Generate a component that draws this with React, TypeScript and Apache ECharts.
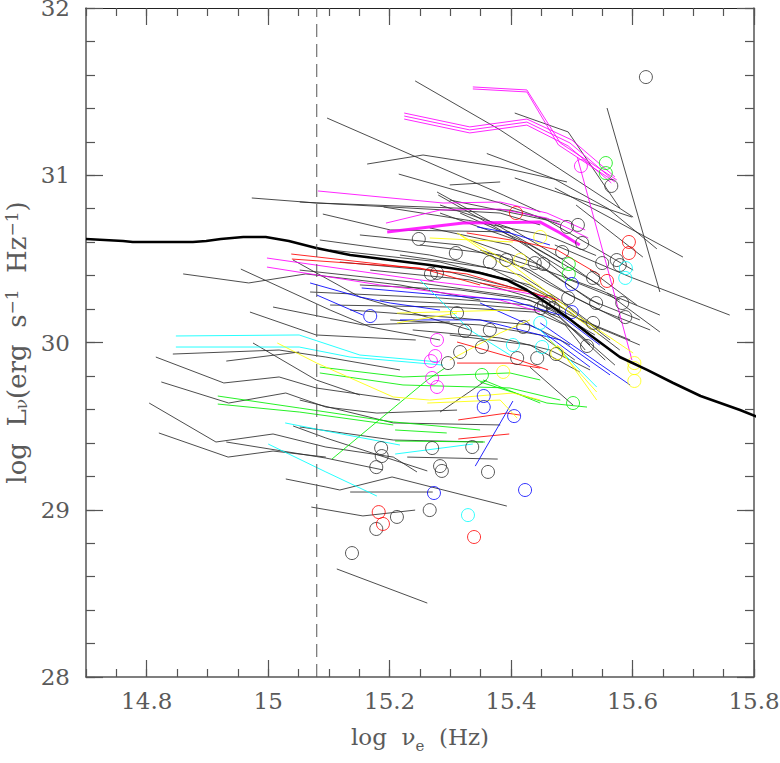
import React, { useEffect, useRef } from "react";
import * as echarts from "echarts";

// ---- axis ticks ----
const X_MAJOR = [14.8, 15, 15.2, 15.4, 15.6, 15.8];
const CUTOFF_NU = 15.08;

// ---- thick reference curve ----
const REFERENCE_CURVE = [
  [14.700, 30.619], [14.761, 30.607], [14.777, 30.601], [14.876, 30.601], [14.898, 30.607],
  [14.922, 30.619], [14.959, 30.631], [14.996, 30.631], [15.034, 30.607], [15.079, 30.565],
  [15.135, 30.523], [15.201, 30.493], [15.266, 30.463], [15.321, 30.433], [15.349, 30.416],
  [15.393, 30.374], [15.426, 30.314], [15.459, 30.236], [15.492, 30.152], [15.530, 30.045],
  [15.579, 29.913], [15.624, 29.836], [15.667, 29.758], [15.712, 29.680], [15.777, 29.596],
  [15.843, 29.501],
];

// ---- individual source tracks, by colour ----
const BLACK_TRACKS = [
  [[14.973, 30.864], [15.080, 30.834], [15.398, 30.792], [15.481, 30.720]],
  [[15.242, 31.564], [15.382, 31.271], [15.601, 30.750]],
  [[15.097, 31.342], [15.387, 30.882], [15.448, 30.780]],
  [[15.163, 31.067], [15.255, 31.121], [15.382, 31.049], [15.492, 30.960]],
  [[15.215, 31.007], [15.382, 30.834], [15.481, 30.703]],
  [[15.299, 30.942], [15.382, 30.960]],
  [[15.052, 30.840], [15.382, 30.774], [15.448, 30.703]],
  [[15.090, 30.768], [15.201, 30.673], [15.398, 30.661]],
  [[15.406, 31.372], [15.494, 31.259], [15.579, 30.804]],
  [[15.558, 31.402], [15.645, 30.302]],
  [[15.406, 30.984], [15.599, 30.750]],
  [[15.472, 30.924], [15.683, 30.511]],
  [[15.507, 30.822], [15.617, 30.511]],
  [[15.299, 30.852], [15.459, 30.732], [15.601, 30.433]],
  [[15.472, 30.583], [15.596, 30.392], [15.760, 30.164]],
  [[15.530, 30.433], [15.607, 30.224]],
  [[15.558, 30.296], [15.645, 30.063]],
  [[15.278, 30.900], [15.382, 30.691], [15.481, 30.481]],
  [[15.280, 30.882], [15.382, 30.673], [15.489, 30.433]],
  [[15.283, 30.774], [15.431, 30.583], [15.546, 30.344]],
  [[15.190, 30.810], [15.330, 30.730], [15.460, 30.640], [15.540, 30.520]],
  [[15.360, 31.130], [15.470, 30.980], [15.560, 30.800], [15.640, 30.560]],
  [[14.860, 30.410], [14.968, 30.356], [15.062, 30.410], [15.217, 30.344], [15.349, 30.254]],
  [[14.955, 30.439], [15.102, 30.194], [15.168, 30.093], [15.283, 30.015]],
  [[15.008, 30.212], [15.156, 30.105], [15.299, 30.123]],
  [[14.970, 30.182], [15.079, 30.045], [15.243, 30.015]],
  [[15.041, 30.493], [15.151, 30.272], [15.332, 30.075]],
  [[14.843, 29.931], [15.018, 29.955], [15.095, 29.913], [15.217, 29.836]],
  [[14.931, 29.889], [15.051, 29.943]],
  [[14.975, 29.997], [15.079, 29.776], [15.151, 29.686]],
  [[14.815, 29.913], [14.927, 29.758], [15.018, 29.794], [15.079, 29.728], [15.217, 29.656]],
  [[14.824, 29.764], [14.935, 29.638], [15.029, 29.698], [15.095, 29.614], [15.179, 29.578], [15.311, 29.596]],
  [[14.804, 29.638], [14.914, 29.405], [15.008, 29.453], [15.095, 29.375], [15.206, 29.315], [15.245, 29.226]],
  [[14.931, 29.405], [15.095, 29.309], [15.189, 29.238]],
  [[14.820, 29.459], [14.934, 29.315], [15.008, 29.351], [15.095, 29.315]],
  [[15.041, 29.501], [15.095, 29.429], [15.262, 29.232]],
  [[15.029, 29.184], [15.095, 29.136], [15.118, 29.118], [15.204, 29.196], [15.393, 29.022]],
  [[15.071, 29.016], [15.156, 28.963], [15.242, 28.998]],
  [[15.113, 28.646], [15.262, 28.442]],
  [[15.135, 29.106], [15.271, 29.106]],
  [[15.229, 29.315], [15.378, 29.303]],
  [[15.283, 29.584], [15.360, 29.776]],
  [[15.052, 29.495], [15.206, 29.417], [15.354, 29.405]],
  [[15.052, 29.656], [15.206, 29.519], [15.382, 29.507]],
  [[15.431, 29.853], [15.502, 29.626]],
  [[15.299, 30.045], [15.431, 29.985], [15.513, 29.824]],
  [[15.085, 30.613], [15.266, 30.523], [15.415, 30.404], [15.481, 30.254], [15.546, 30.075]],
  [[15.102, 30.553], [15.283, 30.481], [15.431, 30.344], [15.489, 30.224], [15.563, 30.015]],
  [[15.118, 30.481], [15.299, 30.421], [15.439, 30.296], [15.497, 30.182], [15.579, 29.955]],
  [[15.052, 30.433], [15.250, 30.356], [15.415, 30.272], [15.464, 30.206], [15.538, 30.045]],
  [[15.151, 30.344], [15.316, 30.314], [15.431, 30.254], [15.472, 30.182], [15.530, 29.985]],
  [[15.069, 30.302], [15.283, 30.266], [15.431, 30.224], [15.481, 30.146], [15.555, 29.895]],
  [[15.184, 30.254], [15.349, 30.224], [15.448, 30.194], [15.505, 30.075], [15.571, 29.865]],
  [[15.102, 30.224], [15.299, 30.212], [15.439, 30.182], [15.489, 30.105], [15.522, 29.955]],
  [[15.217, 30.523], [15.365, 30.445], [15.456, 30.284], [15.513, 30.135], [15.612, 29.985]],
  [[15.250, 30.583], [15.382, 30.523], [15.464, 30.344], [15.546, 30.194], [15.629, 30.075]],
  [[15.168, 30.433], [15.332, 30.374], [15.448, 30.254], [15.497, 30.164], [15.596, 30.015]],
  [[15.266, 30.685], [15.398, 30.583], [15.481, 30.374], [15.546, 30.224]],
  [[15.316, 30.774], [15.415, 30.613], [15.497, 30.374], [15.579, 30.254]],
  [[15.283, 30.822], [15.398, 30.685], [15.481, 30.505], [15.555, 30.314]],
  [[15.135, 30.194], [15.316, 30.146], [15.431, 30.105], [15.497, 29.985]],
  [[15.201, 30.135], [15.349, 30.105], [15.448, 30.045], [15.505, 29.895]],
  [[15.238, 30.075], [15.382, 30.027], [15.464, 29.955], [15.530, 29.836]],
  [[15.332, 30.613], [15.448, 30.463], [15.530, 30.254], [15.612, 30.135]],
  [[15.349, 30.553], [15.456, 30.433], [15.546, 30.314], [15.645, 30.164]],
  [[15.151, 30.643], [15.316, 30.583], [15.431, 30.433], [15.497, 30.284], [15.579, 30.135]],
];

const MAGENTA_TRACKS = [
  [[15.337, 31.528], [15.426, 31.510], [15.481, 31.193], [15.574, 30.972]],
  [[15.337, 31.516], [15.426, 31.498], [15.478, 31.181], [15.571, 30.960]],
  [[15.224, 31.354], [15.332, 31.271], [15.426, 31.318], [15.497, 31.193], [15.568, 30.972]],
  [[15.224, 31.336], [15.332, 31.253], [15.426, 31.300], [15.494, 31.175], [15.565, 30.954]],
  [[15.224, 31.372], [15.332, 31.289], [15.426, 31.336], [15.500, 31.211], [15.571, 30.990]],
  [[15.082, 30.906], [15.288, 30.834], [15.382, 30.840], [15.459, 30.774], [15.522, 30.673]],
  [[15.194, 30.714], [15.283, 30.792], [15.382, 30.798], [15.459, 30.744], [15.527, 30.625]],
  [[15.509, 31.109], [15.556, 30.481], [15.599, 29.895]],
  [[14.998, 30.505], [15.250, 30.374], [15.415, 30.302], [15.481, 30.254]],
  [[14.998, 30.451], [15.184, 30.344], [15.382, 30.254], [15.448, 30.182]],
];
const MAGENTA_THICK = [
  [15.196, 30.661], [15.321, 30.714], [15.448, 30.720], [15.481, 30.655], [15.513, 30.583],
];

const RED_TRACKS = [
  [[15.038, 30.529], [15.327, 30.410], [15.415, 30.314]],
  [[15.039, 30.499], [15.250, 30.445], [15.349, 30.344]],
  [[15.327, 30.655], [15.420, 30.601], [15.476, 30.553], [15.546, 30.404]],
  [[15.349, 30.356], [15.431, 30.302], [15.476, 30.254]],
  [[15.311, 30.003], [15.398, 29.913], [15.461, 29.836]],
  [[15.311, 29.877], [15.398, 29.877], [15.448, 29.847]],
  [[15.313, 29.537], [15.393, 29.578], [15.415, 29.566]],
  [[15.313, 29.423], [15.397, 29.453]],
];

const BLUE_TRACKS = [
  [[15.069, 30.356], [15.151, 30.272], [15.201, 30.236], [15.283, 30.194]],
  [[15.080, 30.284], [15.156, 30.164]],
  [[15.154, 30.326], [15.283, 30.284], [15.398, 30.254], [15.481, 30.164], [15.546, 29.985]],
  [[15.344, 30.691], [15.398, 30.655], [15.464, 30.583]],
  [[15.341, 29.261], [15.403, 29.650]],
  [[15.349, 30.236], [15.448, 30.075], [15.530, 29.853]],
  [[15.448, 30.117], [15.596, 29.746]],
  [[15.217, 30.135], [15.349, 30.135], [15.481, 30.015], [15.563, 29.806]],
];

const GREEN_TRACKS = [
  [[14.917, 29.680], [15.052, 29.608], [15.206, 29.525], [15.349, 29.477]],
  [[14.917, 29.632], [15.052, 29.584], [15.206, 29.507]],
  [[15.085, 29.853], [15.222, 29.794], [15.398, 29.818], [15.448, 29.776]],
  [[15.085, 29.818], [15.222, 29.746], [15.398, 29.728], [15.481, 29.656]],
  [[15.105, 29.303], [15.262, 29.776], [15.291, 29.847]],
  [[15.209, 29.411], [15.357, 29.405]],
  [[15.209, 29.477], [15.294, 29.459]],
  [[15.349, 29.764], [15.459, 29.638], [15.525, 29.614]],
  [[15.354, 29.776], [15.448, 29.638]],
];

const CYAN_TRACKS = [
  [[14.848, 30.039], [15.051, 30.045], [15.151, 29.925], [15.283, 29.883]],
  [[14.848, 29.973], [15.051, 29.973], [15.135, 29.913], [15.288, 29.865]],
  [[15.028, 29.519], [15.095, 29.471], [15.217, 29.387]],
  [[15.000, 29.393], [15.095, 29.226], [15.179, 29.082]],
  [[15.209, 29.333], [15.337, 29.393]],
  [[15.250, 30.374], [15.332, 30.075], [15.398, 29.925]],
  [[15.448, 30.075], [15.541, 29.734]],
];

const YELLOW_TRACKS = [
  [[15.015, 29.997], [15.080, 29.877], [15.206, 29.674], [15.266, 29.656], [15.403, 29.698], [15.448, 29.656]],
  [[15.262, 29.638], [15.382, 29.656], [15.410, 29.548]],
  [[15.311, 30.655], [15.398, 30.475], [15.513, 30.152], [15.601, 29.937]],
  [[15.316, 30.643], [15.469, 30.254], [15.546, 30.045]],
  [[15.212, 30.176], [15.398, 30.194]],
  [[15.212, 30.117], [15.311, 30.176]],
  [[15.299, 29.895], [15.382, 30.057], [15.431, 30.135]],
  [[15.464, 30.015], [15.541, 29.704]],
  [[15.476, 29.985], [15.541, 29.656]],
  [[15.266, 30.625], [15.403, 30.601]],
];

// ---- open circles (single measurements), by colour ----
const BLACK_POINTS = [
  [15.622, 31.587], [15.565, 30.936], [15.248, 30.619], [15.309, 30.535], [15.365, 30.481],
  [15.392, 30.493], [15.439, 30.475], [15.453, 30.469], [15.268, 30.410], [15.278, 30.416],
  [15.492, 30.691], [15.510, 30.703], [15.517, 30.595], [15.484, 30.541], [15.550, 30.475],
  [15.574, 30.493], [15.579, 30.463], [15.535, 30.386], [15.494, 30.266], [15.540, 30.236],
  [15.583, 30.236], [15.588, 30.152], [15.535, 30.117], [15.525, 29.979], [15.474, 29.931],
  [15.443, 29.907], [15.410, 29.907], [15.365, 30.075], [15.324, 30.069], [15.311, 30.176],
  [15.420, 30.093], [15.449, 30.206], [15.352, 29.973], [15.316, 29.943], [15.296, 29.877],
  [15.454, 30.224], [15.462, 30.242], [15.469, 30.206], [15.186, 29.369], [15.187, 29.321],
  [15.178, 29.255], [15.270, 29.369], [15.336, 29.375], [15.283, 29.261], [15.286, 29.232],
  [15.362, 29.226], [15.212, 28.957], [15.266, 28.998], [15.178, 28.885], [15.138, 28.741],
];
const RED_POINTS = [
  [15.408, 30.774], [15.594, 30.601], [15.594, 30.535], [15.558, 30.368],
  [15.182, 28.986], [15.189, 28.915], [15.339, 28.837],
];
const GREEN_POINTS = [
  [15.556, 31.073], [15.556, 31.013], [15.495, 30.469], [15.495, 30.410], [15.352, 29.806], [15.502, 29.638],
];
const MAGENTA_POINTS = [
  [15.515, 31.055], [15.278, 30.015], [15.275, 29.919], [15.268, 29.889], [15.270, 29.788], [15.278, 29.734],
];
const BLUE_POINTS = [
  [15.500, 30.350], [15.500, 30.182], [15.168, 30.158], [15.355, 29.680], [15.355, 29.614],
  [15.405, 29.560], [15.273, 29.100], [15.423, 29.118],
];
const CYAN_POINTS = [
  [15.589, 30.445], [15.588, 30.386], [15.448, 30.117], [15.403, 29.985], [15.451, 29.973], [15.329, 28.968],
];
const YELLOW_POINTS = [
  [15.415, 30.493], [15.448, 30.631], [15.603, 29.877], [15.603, 29.847], [15.603, 29.770],
  [15.476, 29.937], [15.387, 29.824],
];

const FONT = "DejaVu Serif";
const LABEL_COLOR = "#5a5a5a";
const AXIS_COLOR = "#555";

function trackSeries(tracks: number[][][], color: string, width: number, z: number) {
  return tracks.map((pts) => ({
    type: "line",
    data: pts,
    symbol: "none",
    silent: true,
    z,
    lineStyle: { color, width, opacity: 0.85 },
  }));
}

function pointSeries(points: number[][], color: string) {
  return {
    type: "scatter",
    data: points,
    symbol: "circle",
    symbolSize: 13,
    silent: true,
    z: 5,
    itemStyle: { color: "rgba(0,0,0,0)", borderColor: color, borderWidth: 1 },
  };
}

export default function App() {
  const ref = useRef<HTMLDivElement>(null);

  useEffect(() => {
    if (!ref.current) return;
    const chart = echarts.init(ref.current, null, { renderer: "svg" });

    const baseX = { type: "value", min: 14.7, max: 15.8, splitLine: { show: false } };
    const baseY = { type: "value", min: 28, max: 32, splitLine: { show: false } };
    const line = (show: boolean, width = 1.5, color = AXIS_COLOR) => ({
      show,
      onZero: false,
      lineStyle: { color, width },
    });
    const tick = (length: number, extra: any = {}) => ({
      show: true,
      inside: true,
      length,
      lineStyle: { color: AXIS_COLOR, width: 1.2 },
      ...extra,
    });

    const richX = {
      n: { fontFamily: FONT, fontSize: 23, color: LABEL_COLOR, lineHeight: 32 },
      sub: { fontFamily: FONT, fontSize: 15, color: LABEL_COLOR, verticalAlign: "bottom", lineHeight: 32 },
    };
    const richY = {
      n: { fontFamily: FONT, fontSize: 26, color: LABEL_COLOR, lineHeight: 26 },
      sub: { fontFamily: FONT, fontSize: 17, color: LABEL_COLOR, verticalAlign: "bottom", lineHeight: 26 },
      sup: { fontFamily: FONT, fontSize: 17, color: LABEL_COLOR, verticalAlign: "top", lineHeight: 26 },
    };

    const option: any = {
      animation: false,
      grid: { left: 86, top: 8, right: 26, bottom: 86, containLabel: false, outerBoundsMode: "none" },
      xAxis: [
        {
          ...baseX,
          position: "bottom",
          axisLine: line(true),
          axisTick: tick(17, { customValues: X_MAJOR }),
          axisLabel: {
            customValues: X_MAJOR,
            margin: 12,
            fontFamily: FONT,
            fontSize: 23,
            color: LABEL_COLOR,
          },
          name: "{n|log  ν}{sub|e}{n|  (Hz)}",
          nameLocation: "middle",
          nameGap: 44,
          nameTextStyle: { rich: richX },
        },
        { ...baseX, position: "bottom", interval: 0.05, axisLine: line(false), axisTick: tick(8), axisLabel: { show: false } },
        { ...baseX, position: "top", axisLine: line(true, 1.2, "#222"), axisTick: tick(17, { customValues: X_MAJOR }), axisLabel: { show: false } },
        { ...baseX, position: "top", interval: 0.05, axisLine: line(false), axisTick: tick(8), axisLabel: { show: false } },
      ],
      yAxis: [
        {
          ...baseY,
          position: "left",
          interval: 1,
          axisLine: line(true),
          axisTick: tick(17),
          axisLabel: {
            margin: 16,
            fontFamily: FONT,
            fontSize: 23,
            lineHeight: 20,
            color: LABEL_COLOR,
            padding: [6, 0, 0, 0],
          },
          name: "{n|log  L}{sub|ν}{n|(erg  s}{sup|−1}{n|  Hz}{sup|−1}{n|)}",
          nameLocation: "middle",
          nameGap: 48,
          nameTextStyle: { rich: richY },
        },
        { ...baseY, position: "left", interval: 0.2, axisLine: line(false), axisTick: tick(9), axisLabel: { show: false } },
        { ...baseY, position: "right", interval: 1, axisLine: line(true), axisTick: tick(17), axisLabel: { show: false } },
        { ...baseY, position: "right", interval: 0.2, axisLine: line(false), axisTick: tick(9), axisLabel: { show: false } },
      ],
      series: [
        ...trackSeries(BLACK_TRACKS, "#2e2e2e", 1, 2),
        ...trackSeries(MAGENTA_TRACKS, "#ff00ff", 1, 3),
        ...trackSeries([MAGENTA_THICK], "#ff00ff", 3, 3),
        ...trackSeries(RED_TRACKS, "#ff0000", 1, 3),
        ...trackSeries(BLUE_TRACKS, "#0000ff", 1, 3),
        ...trackSeries(GREEN_TRACKS, "#00ee00", 1, 3),
        ...trackSeries(CYAN_TRACKS, "#00ffff", 1, 3),
        ...trackSeries(YELLOW_TRACKS, "#ffff00", 1, 3),
        pointSeries(BLACK_POINTS, "#2e2e2e"),
        pointSeries(RED_POINTS, "#ff0000"),
        pointSeries(GREEN_POINTS, "#00ee00"),
        pointSeries(MAGENTA_POINTS, "#ff00ff"),
        pointSeries(BLUE_POINTS, "#0000ff"),
        pointSeries(CYAN_POINTS, "#00ffff"),
        pointSeries(YELLOW_POINTS, "#ffff00"),
        {
          type: "line",
          data: REFERENCE_CURVE,
          symbol: "none",
          silent: true,
          clip: false,
          z: 6,
          lineStyle: { color: "#000", width: 2.6 },
        },
        {
          type: "line",
          data: [[CUTOFF_NU, 28], [CUTOFF_NU, 32]],
          symbol: "none",
          silent: true,
          z: 6,
          lineStyle: { color: "#555", width: 1, type: [13, 7] },
        },
      ],
    };

    chart.setOption(option);
    return () => chart.dispose();
  }, []);

  return (
    <div
      ref={ref}
      style={{ position: "absolute", left: 0, top: 0, width: 780, height: 763 }}
    />
  );
}
